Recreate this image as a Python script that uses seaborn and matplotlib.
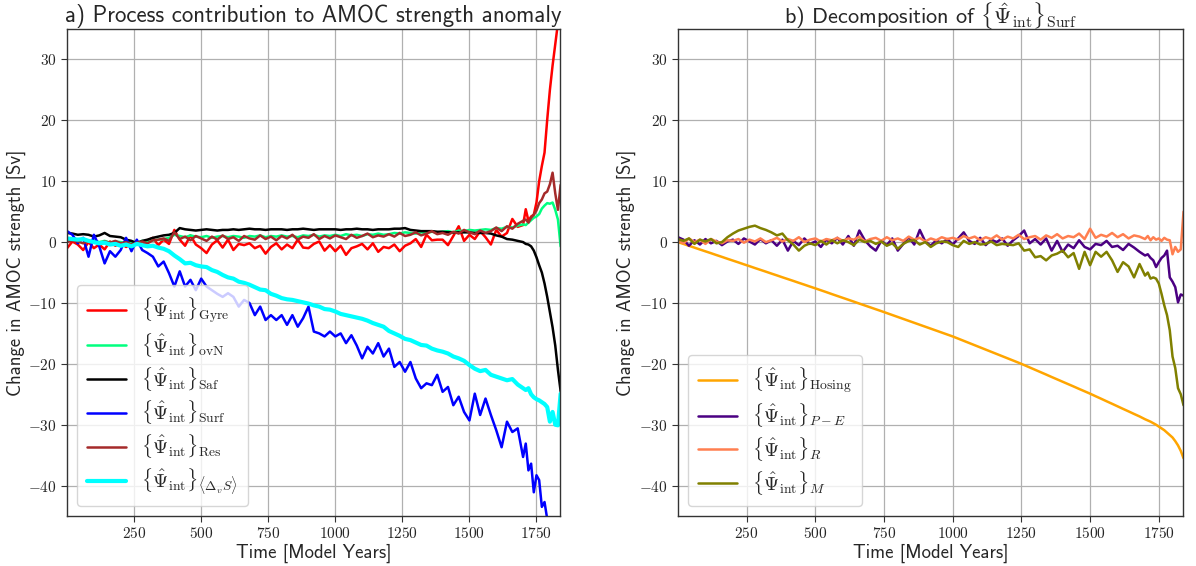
import numpy as np
import pandas as pd
import matplotlib
matplotlib.use("Agg")
import matplotlib.pyplot as plt
import seaborn as sns
from matplotlib.ticker import FuncFormatter, FixedLocator

# ---------------- data ----------------
years = list(range(0, 1700, 20)) + list(range(1700, 1841, 10))

gyre = [-1.0, 0.1, -0.4, -1.3, 0.0, -1.0, -0.4, -1.2, 0.1, -0.6,
        -0.2, -0.8, -0.3, 0.2, -0.6, 0.3, 0.7, -0.5, 0.4, -0.3,
        2.0, 0.4, -0.6, 1.1, -0.4, -1.0, -1.8, -0.4, 0.3, -0.9,
        0.4, -1.3, -0.3, -0.5, -0.2, -1.0, -0.6, -1.9, -0.8, -0.2,
        -1.2, -0.4, -1.0, 0.4, -0.9, -1.0, -0.3, 0.1, -1.4, -0.5,
        -1.5, -0.6, -2.1, -1.0, -0.7, -0.3, -1.2, -0.2, -1.6, -0.8,
        -1.0, -0.4, -1.5, -0.6, -0.2, 0.5, -0.8, 1.2, 0.3, 0.4,
        0.4, -0.5, 1.0, 2.6, 0.2, 1.2, 0.5, 1.8, 0.8, -0.4,
        2.0, 0.9, 1.5, 3.8, 2.5,
        2.8, 5.4, 3.5, 4.2, 4.5, 6.5, 10.0, 12.5, 14.7, 20.1, 25.0, 29.0, 32.5, 36.0, 38.0]

ovn = [0.3, 0.5, 0.2, 0.4, 0.1, 0.3, 0.0, 0.2, -0.1, 0.1,
       0.0, -0.2, 0.1, -0.1, 0.2, 0.0, 0.3, 0.4, 0.5, 0.7,
       1.2, 1.0, 0.8, 1.1, 0.9, 0.8, 1.0, 0.7, 0.9, 1.0,
       0.8, 1.0, 0.9, 0.7, 1.0, 0.9, 1.1, 0.8, 1.0, 0.9,
       1.1, 0.9, 1.0, 0.8, 1.1, 1.0, 1.2, 0.9, 1.1, 1.0,
       1.2, 1.0, 1.3, 1.1, 1.2, 1.0, 1.3, 1.2, 1.4, 1.2,
       1.3, 1.5, 1.4, 1.6, 1.5, 1.4, 1.6, 1.5, 1.7, 1.6,
       1.7, 1.8, 1.6, 1.9, 1.8, 2.0, 1.9, 2.0, 2.1, 2.0,
       2.3, 2.2, 2.5, 2.4, 2.7,
       2.9, 2.8, 3.2, 3.6, 4.0, 4.2, 4.6, 5.5, 6.0, 6.4, 6.3, 6.5, 5.3, 3.7, -0.7]

saf = [1.5, 1.4, 1.2, 1.3, 1.2, 0.9, 1.1, 1.5, 1.0, 0.9,
       0.8, 0.4, 0.2, -0.2, 0.2, 0.4, 0.7, 0.9, 1.1, 1.2,
       1.5, 2.3, 2.1, 2.0, 1.9, 2.0, 2.1, 2.0, 1.9, 2.0,
       2.0, 2.1, 2.0, 2.1, 2.2, 2.1, 2.1, 2.0, 2.1, 2.1,
       2.1, 2.0, 2.1, 2.1, 2.2, 2.1, 2.0, 2.1, 2.1, 2.1,
       2.1, 2.0, 2.1, 2.1, 2.2, 2.1, 2.1, 2.0, 2.1, 2.1,
       2.1, 2.2, 2.2, 2.3, 2.0, 1.9, 1.8, 1.8, 1.8, 1.7,
       1.7, 1.6, 1.6, 1.6, 1.6, 1.6, 1.5, 1.5, 1.5, 1.4,
       1.1, 0.9, 0.5, 0.4, 0.2,
       0.0, -0.3, -0.4, -0.7, -1.4, -2.5, -3.8, -5.0, -6.8, -9.0, -11.5, -14.0, -17.0, -21.0, -24.5]

surf = [1.8, 1.2, -0.2, 0.7, -2.4, 1.2, -0.7, -3.5, -1.5, -2.4,
        -1.3, 0.7, -1.5, 0.4, -1.3, -1.8, -2.4, -4.0, -3.2, -5.1,
        -7.3, -4.8, -7.3, -6.2, -7.9, -6.0, -7.3, -7.9, -8.5, -9.0,
        -8.4, -9.0, -10.6, -9.5, -10.0, -12.0, -10.6, -12.8, -12.0, -12.8,
        -12.0, -13.6, -12.0, -13.9, -12.5, -10.6, -14.7, -15.0, -15.5, -14.7,
        -15.5, -15.0, -16.6, -15.3, -17.0, -19.1, -17.2, -18.3, -16.6, -18.8,
        -17.5, -20.5, -19.7, -21.3, -19.7, -22.4, -24.0, -23.2, -23.5, -21.8,
        -24.6, -23.8, -26.8, -25.4, -27.9, -29.3, -24.9, -28.4, -25.7, -28.4,
        -30.9, -33.7, -29.5, -31.2, -30.6,
        -35.3, -33.1, -37.5, -36.4, -41.1, -38.3, -39.1, -43.5, -42.7, -45.5, -47.0, -48.0, -50.0, -52.0, -54.0]

res = [0.0, 0.3, 0.1, -0.2, 0.2, 0.0, -0.3, 0.1, -0.1, 0.2,
       -0.2, 0.0, -0.4, -0.1, 0.1, -0.2, 0.3, 0.4, 0.6, 0.2,
       1.6, 0.5, 0.9, 0.3, 1.0, 0.6, 0.2, 0.9, 0.4, 1.1,
       0.5, 0.8, 0.2, 1.0, 0.6, 0.4, 1.1, 0.5, 0.9, 0.3,
       1.0, 0.6, 1.2, 0.4, 0.9, 0.7, 1.3, 0.5, 1.0, 0.6,
       1.1, 0.8, 0.5, 1.2, 0.7, 1.0, 1.4, 0.8, 1.1, 0.9,
       1.3, 0.9, 1.5, 1.0, 1.2, 1.6, 1.1, 1.4, 1.8, 1.3,
       1.5, 1.2, 1.7, 1.4, 2.0, 1.6, 1.3, 1.9, 1.5, 1.8,
       2.4, 1.8, 2.6, 2.2, 3.0,
       3.5, 3.7, 3.2, 4.0, 4.5, 5.2, 6.4, 7.0, 8.0, 8.3, 9.5, 11.4, 8.0, 5.3, 9.4]

dvs = [0.6, 0.5, 0.4, 0.5, 0.2, 0.0, -0.2, -0.1, -0.4, -0.3,
       -0.6, -0.4, -0.7, -0.3, -0.5, -0.7, -0.6, -0.9, -1.1, -1.5,
       -2.2, -2.8, -3.5, -3.4, -3.8, -4.0, -4.1, -4.6, -4.9, -5.4,
       -5.8, -6.0, -6.5, -6.7, -7.0, -7.4, -7.8, -7.9, -8.5, -8.8,
       -9.2, -9.4, -9.5, -9.7, -9.9, -10.1, -10.4, -10.6, -11.0, -11.1,
       -11.4, -11.8, -12.0, -12.2, -12.4, -12.6, -12.9, -13.3, -13.6, -13.9,
       -14.6, -15.0, -15.4, -15.9, -16.1, -16.5, -16.9, -17.0, -17.5, -17.8,
       -18.0, -18.3, -18.8, -19.1, -19.5, -20.2, -20.8, -21.2, -21.0, -21.8,
       -22.1, -22.4, -22.7, -22.5, -23.4,
       -24.0, -24.3, -24.0, -25.0, -25.5, -25.8, -26.0, -26.3, -26.6, -27.1, -29.5, -27.9, -30.0, -30.1, -24.9]

hosing = [0.0, -0.30, -0.61, -0.91, -1.22, -1.52, -1.82, -2.13, -2.43, -2.74,
          -3.04, -3.34, -3.65, -3.95, -4.26, -4.56, -4.86, -5.17, -5.47, -5.78,
          -6.08, -6.38, -6.69, -6.99, -7.30, -7.60, -7.91, -8.22, -8.54, -8.85,
          -9.16, -9.47, -9.78, -10.10, -10.41, -10.72, -11.03, -11.34, -11.66, -11.98,
          -12.30, -12.62, -12.94, -13.26, -13.58, -13.90, -14.22, -14.54, -14.86, -15.18,
          -15.50, -15.86, -16.22, -16.58, -16.94, -17.30, -17.66, -18.02, -18.38, -18.74,
          -19.10, -19.46, -19.82, -20.20, -20.59, -20.98, -21.37, -21.76, -22.16, -22.55,
          -22.94, -23.33, -23.72, -24.12, -24.51, -24.90, -25.32, -25.73, -26.15, -26.56,
          -26.98, -27.40, -27.81, -28.23, -28.64,
          -29.1, -29.3, -29.5, -29.75, -30.0, -30.3, -30.6, -30.9, -31.3, -31.7, -32.1, -32.7, -33.4, -34.3, -35.5]

p_e = [0.8, 0.4, -0.6, 0.3, -0.4, 0.5, -0.2, 0.2, -0.5, 0.1,
       0.4, -0.3, 0.6, 0.1, -0.4, 0.5, -0.2, 0.3, -0.6, 0.4,
       -1.4, 0.2, -0.5, 0.6, -0.3, 0.1, -0.8, 0.4, -0.2, 0.7,
       -0.4, 1.0, -0.6, 1.9, 0.3, -0.7, -1.4, 0.2, -0.5, 0.6,
       -1.4, -0.3, 0.8, -0.4, 2.0, 0.1, -0.6, 0.3, -0.2, 0.5,
       -0.4, 0.6, 1.6, 0.2, -0.3, 0.7, -0.5, 0.4, 0.0, 0.6,
       -0.6, 0.3, 1.0, 1.9, -0.2, 0.5, -0.4, 0.6, -1.4, 0.2,
       -1.6, -0.4, -1.0, 0.3, -0.8, -1.2, -0.3, -0.5, 0.2, -0.8,
       -0.6, -1.3, -0.3, -0.9, -1.6,
       -2.2, -2.0, -2.6, -3.0, -4.1, -3.3, -2.6, -2.2, -1.4, -5.8, -6.5, -7.4, -9.9, -8.6, -8.8]

runoff = [0.3, -0.2, 0.6, 0.0, 0.4, -0.3, 0.5, 0.1, -0.2, 0.3,
          0.2, 0.5, -0.1, 0.4, 0.1, 0.6, 0.0, 0.3, 0.7, 0.1,
          0.5, 0.2, 0.8, 0.0, 0.4, 0.6, 0.1, 0.5, 0.3, 0.7,
          0.2, 0.6, 0.4, 0.9, 0.1, 0.5, 0.7, 0.2, 0.8, 0.3,
          0.6, 0.2, 0.9, 0.4, 0.7, 0.1, 0.6, 0.3, 0.8, 0.5,
          0.7, 0.4, 1.0, 0.6, 0.9, 0.3, 0.8, 0.5, 1.1, 0.4,
          0.9, 0.6, 1.2, 0.5, 0.8, 1.0, 0.4, 1.1, 0.7, 1.3,
          0.6, 1.0, 0.8, 1.4, 0.5, 2.2, 0.7, 1.2, 0.9, 1.5,
          0.8, 1.3, 0.6, 1.1, 0.9,
          0.5, 1.0, 0.3, 0.8, 0.4, 0.6, 0.2, 0.7, 0.4, 0.3, -2.0, -0.8, -1.6, -1.2, 5.0]

mixing = [0.5, 0.2, 0.6, -0.3, 0.4, 0.1, 0.5, -0.2, 0.0, 0.8,
          1.4, 1.9, 2.2, 2.5, 2.7, 2.3, 2.0, 1.6, 1.1, 1.4,
          0.3, -0.4, -1.4, -0.6, -0.2, -0.5, 0.2, -0.4, 0.3, -0.2,
          0.3, 0.0, -0.5, 0.4, 0.0, 0.2, -0.3, 0.1, -0.6, -0.2,
          -1.1, -0.3, 0.2, 0.3, -0.4, 0.0, -0.8, -0.2, 0.1, 0.0,
          -0.5, -0.8, 0.2, -0.3, 0.0, -0.4, -0.3, 0.1, -0.5, -0.3,
          -0.4, -0.5, -0.2, -1.4, -1.2, -2.5, -2.3, -3.0, -2.2, -1.9,
          -1.4, -2.5, -1.8, -4.4, -1.6, -3.8, -1.6, -2.4, -1.6, -3.0,
          -4.9, -3.3, -4.0, -5.8, -3.6,
          -5.5, -5.0, -6.0, -5.8, -6.0, -6.8, -8.5, -10.4, -12.0, -14.5, -18.8, -20.7, -24.0, -25.0, -26.8]

xticks = [250, 500, 750, 1000, 1250, 1500, 1750]
yticks = [-40, -30, -20, -10, 0, 10, 20, 30]

psi = r"\{\hat{\Psi}_{\mathrm{int}}\}"
left_series = [
    (gyre, psi + r"_{\mathrm{Gyre}}", "#ff0000", 1.8),
    (ovn, psi + r"_{\mathrm{ovN}}", "#00ff7f", 1.8),
    (saf, psi + r"_{\mathrm{Saf}}", "#000000", 1.8),
    (surf, psi + r"_{\mathrm{Surf}}", "#0000ff", 1.8),
    (res, psi + r"_{\mathrm{Res}}", "#a52a2a", 1.8),
    (dvs, psi + r"_{\langle\Delta_v S\rangle}", "#00ffff", 3.0),
]
right_series = [
    (hosing, psi + r"_{\mathrm{Hosing}}", "#ffa500", 1.8),
    (p_e, psi + r"_{P-E}", "#4b0082", 1.8),
    (runoff, psi + r"_{R}", "#ff7f50", 1.8),
    (mixing, psi + r"_{M}", "#808000", 1.8),
]

# ---------------- style ----------------
sns.set_style("ticks", {"axes.grid": True, "grid.color": "#b0b0b0",
                        "axes.edgecolor": "#333333"})
plt.rcParams["font.family"] = ["cmss10", "DejaVu Sans"]
plt.rcParams["mathtext.fontset"] = "cm"
plt.rcParams["axes.formatter.use_mathtext"] = True

fig = plt.figure(figsize=(11.96, 5.66), dpi=100)
ax1 = fig.add_axes([0.0563, 0.0883, 0.4120, 0.8604])
ax2 = fig.add_axes([0.5671, 0.0883, 0.4220, 0.8604])

fmt = FuncFormatter(lambda v, p: f"${v:.0f}$")

panels = [
    (ax1, left_series, "a) Process contribution to AMOC strength anomaly", 16.5, 7),
    (ax2, right_series, r"b) Decomposition of $" + psi + r"_{\mathrm{Surf}}$", 16, 5),
]
for ax, series, title, tsize, tpad in panels:
    for vals, lab, col, lw in series:
        sns.lineplot(x=years, y=vals, ax=ax, color=col, lw=lw,
                     label=f"${lab}$")
    ax.set_xlim(1, 1838)
    ax.set_ylim(-45, 35)
    ax.xaxis.set_major_locator(FixedLocator(xticks))
    ax.yaxis.set_major_locator(FixedLocator(yticks))
    ax.xaxis.set_major_formatter(fmt)
    ax.yaxis.set_major_formatter(fmt)
    ax.tick_params(labelsize=11, length=4, width=0.8, color="#333333")
    ax.grid(True, color="#b0b0b0", lw=0.9)
    for s in ax.spines.values():
        s.set_visible(True)
        s.set_color("#333333")
        s.set_linewidth(1.0)
    ax.set_xlabel("Time [Model Years]", fontsize=13.5, labelpad=2)
    ax.set_ylabel("Change in AMOC strength [Sv]", fontsize=13.5)
    ax.yaxis.set_label_coords(-0.083, 0.5)
    ax.legend(loc="lower left", fontsize=14, labelspacing=0.3,
              handlelength=2.0, handletextpad=0.8, borderpad=0.5,
              frameon=True, framealpha=0.8, edgecolor="#cccccc",
              fancybox=True)
    ax.text(0.5, 1.0 + tpad / 487, title, transform=ax.transAxes,
            ha="center", va="baseline", fontsize=tsize)

fig.savefig("out.png", dpi=100)
